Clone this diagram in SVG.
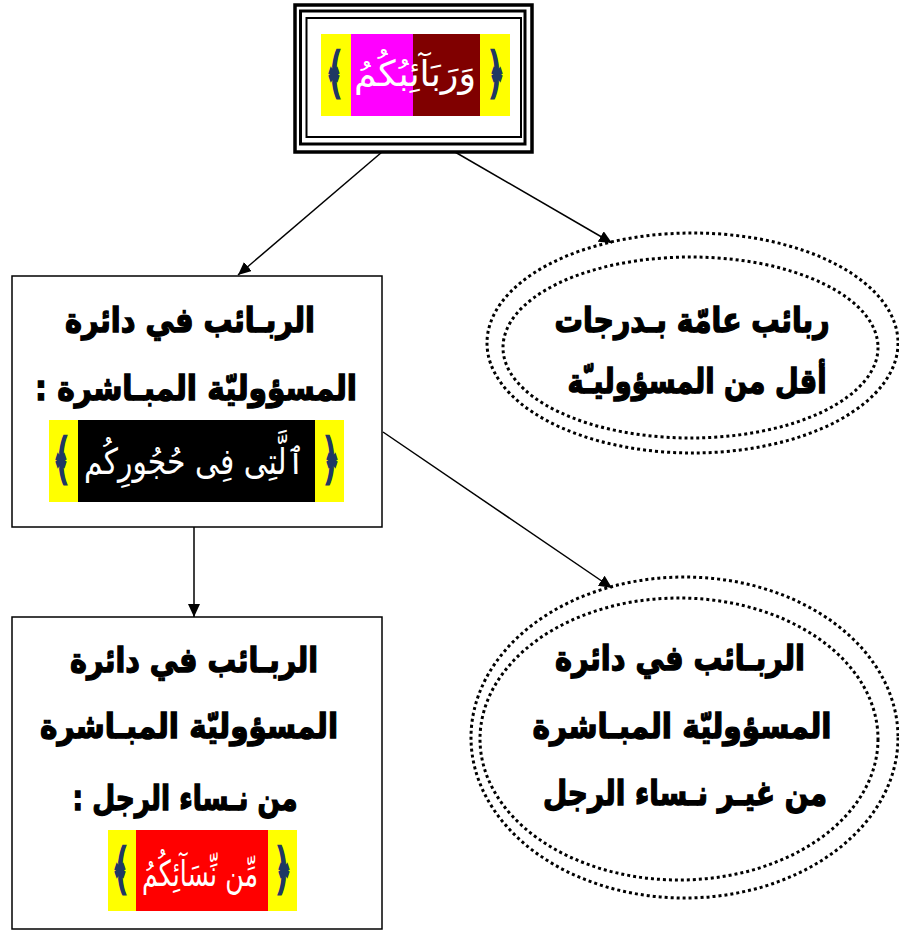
<svg xmlns="http://www.w3.org/2000/svg" width="899" height="931" viewBox="0 0 899 931">
<defs>
<style>
.lbl{font-family:"DejaVu Sans",sans-serif;font-weight:bold;font-size:34px;fill:#000;stroke:#000;stroke-width:1.4;text-anchor:middle;direction:rtl}
.q{font-family:"DejaVu Sans",sans-serif;font-size:36px;fill:#fff;text-anchor:middle;direction:rtl}
.br{font-family:"DejaVu Sans",sans-serif;font-weight:bold;font-size:54px;fill:#1f3864;stroke:#1f3864;stroke-width:1.5;text-anchor:middle;direction:ltr}
.box{fill:#fff;stroke:#000;stroke-width:1.5}
.dot{fill:none;stroke:#000;stroke-width:3;stroke-dasharray:3 3}
.conn{stroke:#000;stroke-width:1.5;fill:none;marker-end:url(#arr)}
</style>
<marker id="arr" markerUnits="userSpaceOnUse" markerWidth="14" markerHeight="12" refX="13" refY="6" orient="auto">
<path d="M0,0 L13,6 L0,12 z" fill="#000"/>
</marker>
</defs>
<rect width="899" height="931" fill="#fff"/>

<g id="connectors">
<line class="conn" x1="382" y1="152" x2="238" y2="275"/>
<line class="conn" x1="455" y1="152" x2="612" y2="243"/>
<line class="conn" x1="383" y1="432" x2="612" y2="588"/>
<line class="conn" x1="194" y1="527" x2="194" y2="617"/>
</g>

<g id="top">
<rect x="295" y="5" width="237" height="147" fill="#fff" stroke="#000" stroke-width="3.5"/>
<rect x="300.5" y="11" width="224.5" height="133" fill="none" stroke="#000" stroke-width="3"/>
<rect x="306.5" y="18" width="214.5" height="119" fill="none" stroke="#000" stroke-width="2"/>
<rect x="321" y="34" width="30" height="82" fill="#ff0"/>
<rect x="351" y="34" width="62" height="82" fill="#f0f"/>
<rect x="413" y="34" width="67" height="82" fill="#800000"/>
<rect x="480" y="34" width="30" height="82" fill="#ff0"/>
<text class="br" x="335" y="92" textLength="18" lengthAdjust="spacingAndGlyphs">﴾</text>
<text class="br" x="496" y="92" textLength="18" lengthAdjust="spacingAndGlyphs">﴿</text>
<text class="q" x="415" y="86" textLength="122" lengthAdjust="spacingAndGlyphs">وَرَبَآئِبُكُمُ</text>
</g>

<g id="box1">
<rect class="box" x="12" y="276" width="370" height="251"/>
<text class="lbl" x="190" y="332" textLength="250" lengthAdjust="spacingAndGlyphs">الربـائب في دائرة</text>
<text class="lbl" x="196" y="400" textLength="322" lengthAdjust="spacingAndGlyphs">المسؤوليّة المبـاشرة :</text>
<rect x="49" y="420" width="29" height="82" fill="#ff0"/>
<rect x="78" y="420" width="237" height="82" fill="#000"/>
<rect x="315" y="420" width="29" height="82" fill="#ff0"/>
<text class="br" x="62" y="478" textLength="18" lengthAdjust="spacingAndGlyphs">﴾</text>
<text class="br" x="331" y="478" textLength="18" lengthAdjust="spacingAndGlyphs">﴿</text>
<text class="q" x="194" y="474" textLength="220" lengthAdjust="spacingAndGlyphs">ٱلَّتِى فِى حُجُورِكُم</text>
</g>

<g id="ellipse1">
<ellipse class="dot" cx="692.5" cy="343" rx="205.5" ry="110"/>
<ellipse class="dot" cx="690.5" cy="347.5" rx="187.5" ry="90.5"/>
<text class="lbl" x="692" y="332" textLength="275" lengthAdjust="spacingAndGlyphs">ربائب عامّة بـدرجات</text>
<text class="lbl" x="697" y="393" textLength="259" lengthAdjust="spacingAndGlyphs">أقل من المسؤوليـّة</text>
</g>

<g id="box2">
<rect class="box" x="12" y="617" width="370" height="312"/>
<text class="lbl" x="194" y="672" textLength="248" lengthAdjust="spacingAndGlyphs">الربـائب في دائرة</text>
<text class="lbl" x="189" y="738" textLength="298" lengthAdjust="spacingAndGlyphs">المسؤوليّة المبـاشرة</text>
<text class="lbl" x="185" y="810" textLength="225" lengthAdjust="spacingAndGlyphs">من نـساء الرجل :</text>
<rect x="108" y="830" width="28" height="81" fill="#ff0"/>
<rect x="136" y="830" width="132" height="81" fill="#f00"/>
<rect x="268" y="830" width="29" height="81" fill="#ff0"/>
<text class="br" x="121" y="888" textLength="18" lengthAdjust="spacingAndGlyphs">﴾</text>
<text class="br" x="283" y="888" textLength="18" lengthAdjust="spacingAndGlyphs">﴿</text>
<text class="q" x="200" y="886" textLength="116" lengthAdjust="spacingAndGlyphs">مِّن نِّسَآئِكُمُ</text>
</g>

<g id="ellipse2">
<ellipse class="dot" cx="684.5" cy="737.5" rx="213.5" ry="160.5"/>
<ellipse class="dot" cx="679" cy="739" rx="199" ry="141"/>
<text class="lbl" x="680" y="670" textLength="250" lengthAdjust="spacingAndGlyphs">الربـائب في دائرة</text>
<text class="lbl" x="682" y="738" textLength="299" lengthAdjust="spacingAndGlyphs">المسؤوليّة المبـاشرة</text>
<text class="lbl" x="685" y="805" textLength="284" lengthAdjust="spacingAndGlyphs">من غيـر نـساء الرجل</text>
</g>
</svg>
